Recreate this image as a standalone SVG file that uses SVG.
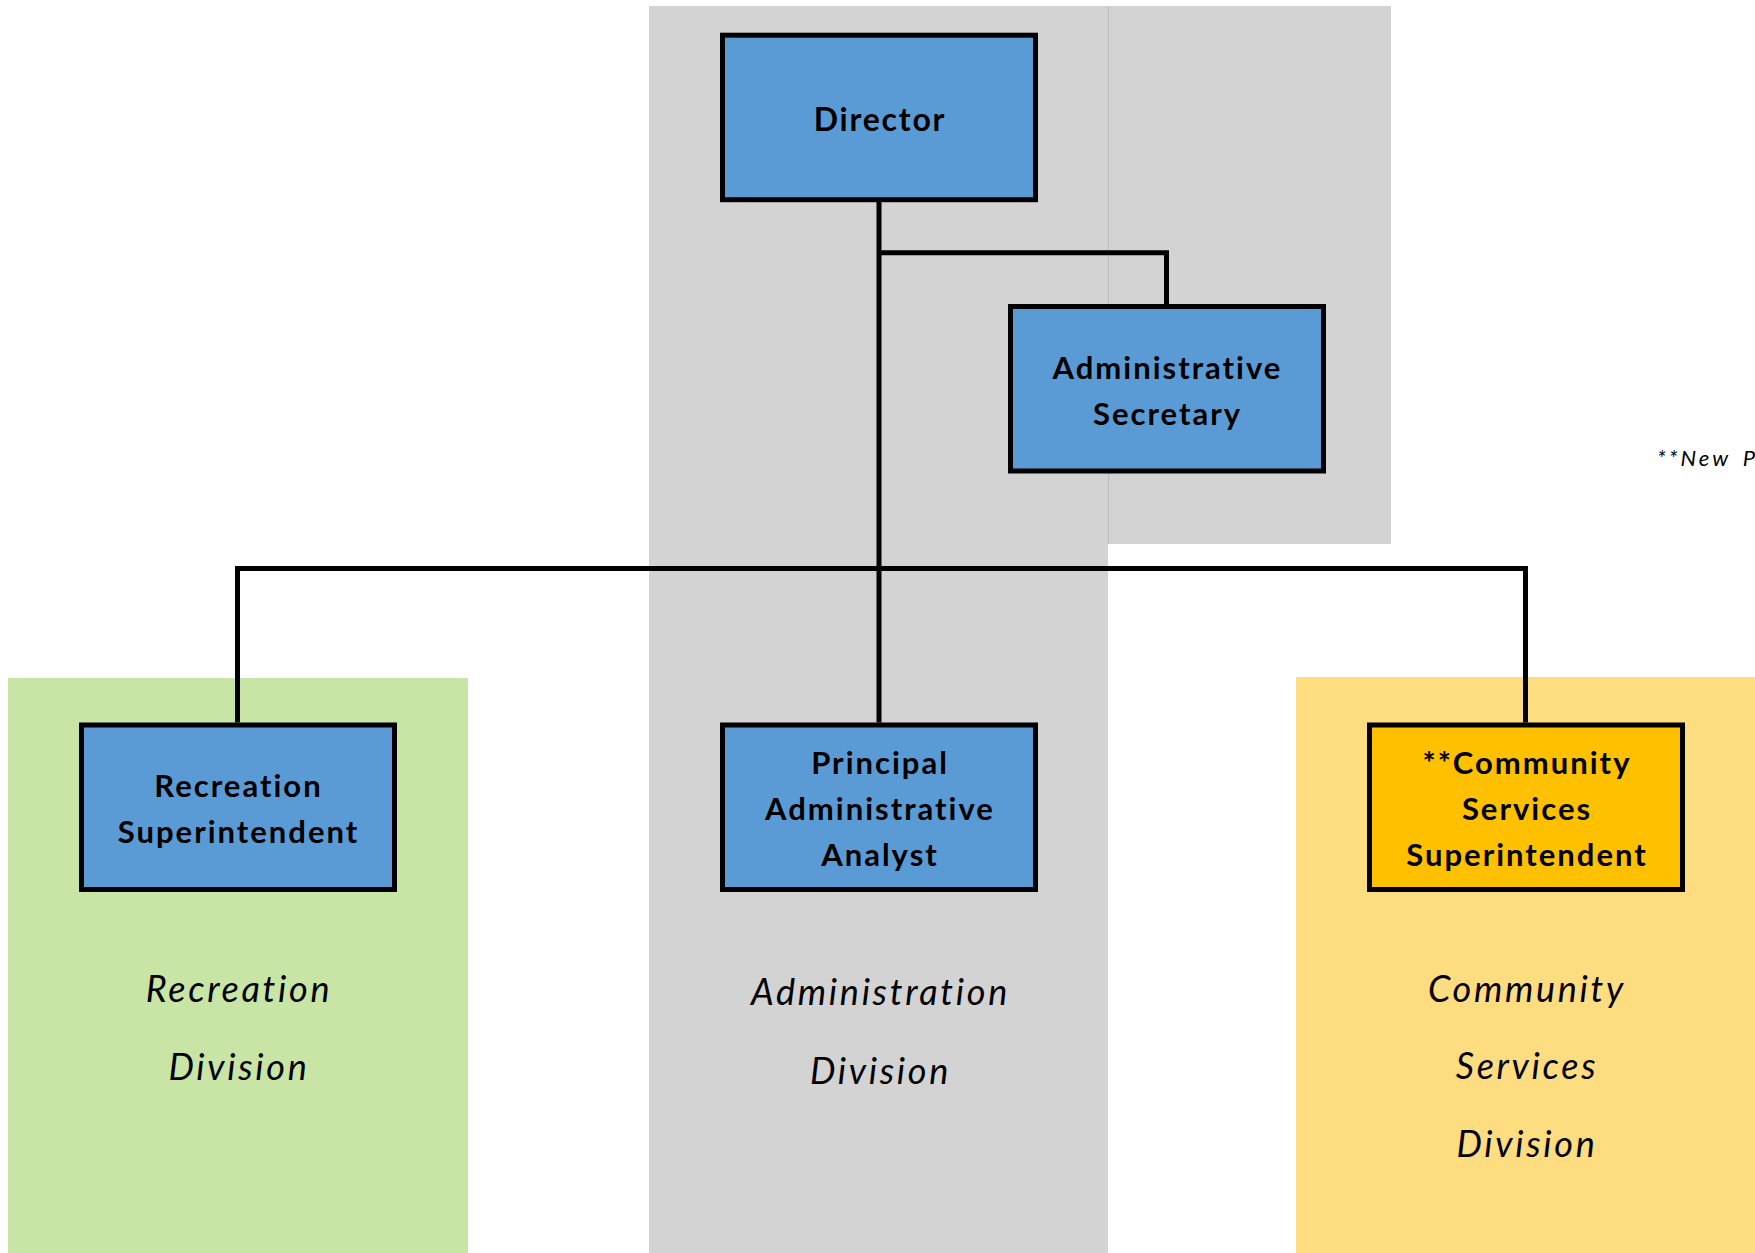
<svg xmlns="http://www.w3.org/2000/svg" width="1755" height="1253" viewBox="0 0 1755 1253">
<style>
.node rect{stroke:#000;stroke-width:5}
.blue{fill:#5B9BD5}
.orange{fill:#FFC000}
.lbl{font-family:Lato,"Liberation Sans",sans-serif;font-weight:bold;font-size:31px;letter-spacing:2px;fill:#000;text-anchor:middle}
.big{font-size:32px;letter-spacing:1.8px}
.div{font-family:Lato,"Liberation Sans",sans-serif;font-style:italic;font-size:36px;letter-spacing:2.7px;fill:#000;text-anchor:middle}
.conn{fill:none;stroke:#000;stroke-width:5}
</style>
<rect width="1755" height="1253" fill="#fff"/>
<g id="panels">
<rect x="1108" y="6" width="283" height="538" fill="#D3D3D3"/>
<rect x="649" y="6" width="459" height="1247" fill="#D3D3D3"/>
<line x1="1108.5" y1="6" x2="1108.5" y2="544" stroke="#BDBDBD" stroke-width="1"/>
<rect x="8" y="678" width="460" height="575" fill="#C8E5A5"/>
<rect x="1296" y="677" width="459" height="576" fill="#FEDC80"/>
</g>
<g id="connectors">
<path class="conn" d="M879 202 V722.5"/>
<path class="conn" d="M879 252.7 H1166.5 V304"/>
<path class="conn" d="M237.5 722.5 V568.5 H1525.5 V722.5"/>
</g>
<g id="director" class="node">
<rect class="blue" x="722.5" y="35.2" width="313" height="164.5"/>
<text class="lbl big" x="880" y="131">Director</text>
</g>
<g id="admin-secretary" class="node">
<rect class="blue" x="1010.5" y="306.5" width="313" height="164.5"/>
<text class="lbl" x="1167.5" y="378.5">Administrative</text>
<text class="lbl" x="1167.5" y="424.5">Secretary</text>
</g>
<g id="recreation-superintendent" class="node">
<rect class="blue" x="81.5" y="725" width="313" height="164.5"/>
<text class="lbl" x="238.5" y="797">Recreation</text>
<text class="lbl" x="238.5" y="843">Superintendent</text>
</g>
<g id="principal-analyst" class="node">
<rect class="blue" x="722.5" y="725" width="313" height="164.5"/>
<text class="lbl" x="880" y="774.3">Principal</text>
<text class="lbl" x="880" y="820">Administrative</text>
<text class="lbl" x="880" y="866">Analyst</text>
</g>
<g id="community-superintendent" class="node">
<rect class="orange" x="1369.5" y="725" width="313" height="164.5"/>
<text class="lbl" x="1527" y="774.3">**Community</text>
<text class="lbl" x="1527" y="820">Services</text>
<text class="lbl" x="1527" y="866">Superintendent</text>
</g>
<g id="division-labels">
<text class="div" x="239" y="1002">Recreation</text>
<text class="div" x="239" y="1080">Division</text>
<text class="div" x="880.5" y="1005">Administration</text>
<text class="div" x="880.5" y="1084">Division</text>
<text class="div" x="1527" y="1002">Community</text>
<text class="div" x="1527" y="1079">Services</text>
<text class="div" x="1527" y="1157">Division</text>
</g>
<text id="note" x="1657" y="465.5" font-family="Lato,'Liberation Sans',sans-serif" font-style="italic" font-size="22" letter-spacing="3">**New <tspan x="1742.7">P</tspan></text>
</svg>
